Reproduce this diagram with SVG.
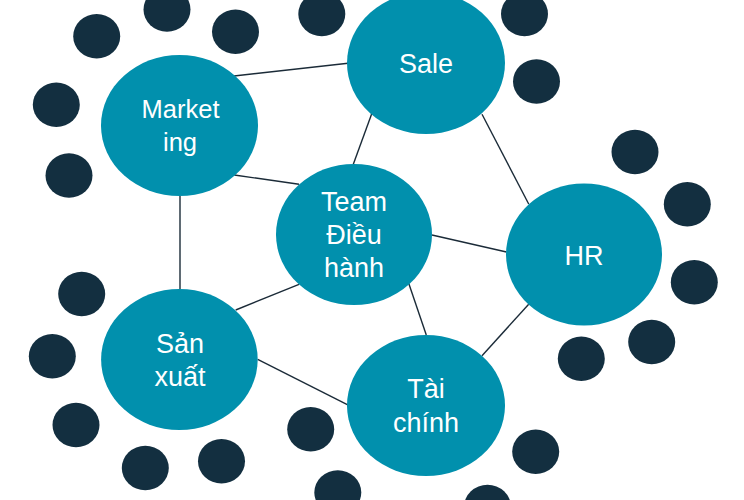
<svg xmlns="http://www.w3.org/2000/svg" width="744" height="500" viewBox="0 0 744 500">
<style>
.big{fill:#0190AD}
.dot{fill:#132F40}
.lbl{fill:#ffffff;font-family:"Liberation Sans",Arial,sans-serif;font-size:27px;text-anchor:middle}
.sm{font-size:25.5px}
.con line{stroke:#1B2B38;stroke-width:1.4}
</style>
<rect width="744" height="500" fill="#ffffff"/>
<g id="dots">
<ellipse class="dot" cx="167" cy="9.5" rx="23.5" ry="22.2"/>
<ellipse class="dot" cx="96.7" cy="36.2" rx="23.5" ry="22.2"/>
<ellipse class="dot" cx="235.5" cy="31.7" rx="23.5" ry="22.2"/>
<ellipse class="dot" cx="321.8" cy="14" rx="23.5" ry="22.2"/>
<ellipse class="dot" cx="56.3" cy="104.7" rx="23.5" ry="22.2"/>
<ellipse class="dot" cx="69" cy="175.5" rx="23.5" ry="22.2"/>
<ellipse class="dot" cx="524.5" cy="14" rx="23.5" ry="22.2"/>
<ellipse class="dot" cx="536.5" cy="81.5" rx="23.5" ry="22.2"/>
<ellipse class="dot" cx="635" cy="152" rx="23.5" ry="22.2"/>
<ellipse class="dot" cx="687.3" cy="204.3" rx="23.5" ry="22.2"/>
<ellipse class="dot" cx="694.3" cy="282.3" rx="23.5" ry="22.2"/>
<ellipse class="dot" cx="651.7" cy="342" rx="23.5" ry="22.2"/>
<ellipse class="dot" cx="581.3" cy="358.7" rx="23.5" ry="22.2"/>
<ellipse class="dot" cx="535.7" cy="451.7" rx="23.5" ry="22.2"/>
<ellipse class="dot" cx="487.5" cy="507" rx="23.5" ry="22.2"/>
<ellipse class="dot" cx="81.7" cy="294" rx="23.5" ry="22.2"/>
<ellipse class="dot" cx="52.3" cy="356.3" rx="23.5" ry="22.2"/>
<ellipse class="dot" cx="76" cy="425" rx="23.5" ry="22.2"/>
<ellipse class="dot" cx="145.3" cy="468" rx="23.5" ry="22.2"/>
<ellipse class="dot" cx="221.5" cy="461.3" rx="23.5" ry="22.2"/>
<ellipse class="dot" cx="310.7" cy="429.3" rx="23.5" ry="22.2"/>
<ellipse class="dot" cx="337.8" cy="492.5" rx="23.5" ry="22.2"/>
</g>
<g id="connectors" class="con">
<line x1="234" y1="76" x2="348" y2="63.3"/>
<line x1="234.3" y1="175" x2="299" y2="184.3"/>
<line x1="180" y1="196" x2="180" y2="289"/>
<line x1="372" y1="113" x2="353.3" y2="164.3"/>
<line x1="482" y1="114.3" x2="528.7" y2="204"/>
<line x1="432" y1="235" x2="506.5" y2="252"/>
<line x1="408.7" y1="283.3" x2="426.3" y2="335"/>
<line x1="528.7" y1="304.3" x2="482" y2="355.7"/>
<line x1="235.7" y1="310" x2="299" y2="284.3"/>
<line x1="257.7" y1="359.3" x2="348.3" y2="405"/>
</g>
<g id="marketing">
<ellipse class="big" cx="179.5" cy="125.5" rx="78.5" ry="70.5"/>
<text class="lbl sm" x="180.5" y="118.3">Market</text>
<text class="lbl sm" x="180" y="151">ing</text>
</g>
<g id="sale">
<ellipse class="big" cx="426" cy="63" rx="79" ry="71"/>
<text class="lbl" x="426" y="73.3">Sale</text>
</g>
<g id="team">
<ellipse class="big" cx="354" cy="234.5" rx="78" ry="70.5"/>
<text class="lbl" x="354" y="211">Team</text>
<text class="lbl" x="354" y="243.5">Điều</text>
<text class="lbl" x="354" y="276.7">hành</text>
</g>
<g id="hr">
<ellipse class="big" cx="584" cy="254.5" rx="78" ry="71"/>
<text class="lbl" x="584" y="265">HR</text>
</g>
<g id="sanxuat">
<ellipse class="big" cx="179.4" cy="359.5" rx="78.3" ry="70.5"/>
<text class="lbl" x="180" y="353.3">Sản</text>
<text class="lbl" x="180" y="386">xuất</text>
</g>
<g id="taichinh">
<ellipse class="big" cx="426" cy="405.5" rx="79" ry="70.5"/>
<text class="lbl" x="426" y="398.3">Tài</text>
<text class="lbl" x="426" y="431.7">chính</text>
</g>
</svg>
